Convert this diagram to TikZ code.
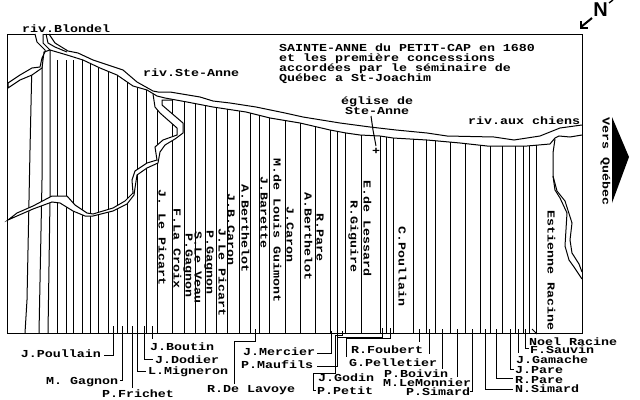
\documentclass[tikz,border=0pt]{standalone}
\usepackage{fontspec}
\setmainfont{Liberation Mono}[BoldFont={Liberation Mono Bold},BoldFeatures={FakeStretch=1.25},FakeStretch=1.25]
\newfontfamily\nfont{Liberation Sans}[BoldFont={Liberation Sans Bold}]
\newcommand{\htxt}[4]{\node[maplabel] (#1) at (#2,#3+3.5) {#4};}
\newcommand{\vtxt}[4]{\node[maplabel,rotate=-90] (#1) at (#2-3.5,#3) {#4};}
\tikzset{
  maplabel/.style={anchor=base west,inner sep=0pt,outer sep=0pt,font=\bfseries\fontsize{8}{8}\selectfont},
  ink/.style={draw=black,line width=0.75pt,line join=miter},
  river/.style={ink,fill=white}
}
\begin{document}
\begin{tikzpicture}[x=0.75pt,y=-0.75pt]
\useasboundingbox (0,0) rectangle (640,400);
\fill[white] (0,0) rectangle (640,400);
% lots, below the shore
\begin{scope}
\clip (8,333) -- (8,88) -- (20,80) -- (32,75) -- (42,68) -- (44,50) -- (50,50) -- (67,55) -- (83,60) -- (100,68) -- (117,75) -- (133,86) -- (147,90) -- (157,96) -- (165,98) -- (187,102) -- (213,107) -- (246,112) -- (270,118) -- (300,123) -- (330,130) -- (346,133) -- (360,135) -- (380,136) -- (393,138) -- (427,140) -- (460,143) -- (487,146) -- (527,146) -- (550,144) -- (582,144) -- (582,333) -- cycle;
\draw[ink] (32,60) -- (30,150) -- (27,300) -- (25,333);
\draw[ink] (42,60) -- (42,180) -- (39,333);
\draw[ink] (50,40) -- (50,200) -- (48,333);
\foreach \x in {57,66,73,82,90,98,108,117,127,137,146,157,172,184,195,205,216,227,239,250,259,269,285,300,315,330,337,345,361,380,386,393,413,426,435,450,465,480,490,502,515,523,529,536}
  \draw[ink] (\x,60) -- (\x,333);
\end{scope}
% frame
\draw[ink] (7.5,34) -- (582,34) -- (582,333) -- (7.5,333) -- cycle;
% riv. Ste-Anne
\draw[river] (153,94) -- (155,107) -- (160,113) -- (177,128) -- (177,135) -- (163,140) -- (155,147) -- (157,160) -- (147,163) -- (135,171) -- (132,180) -- (133,193) -- (125,201) -- (113,208) -- (93,214) -- (87,213) -- (75,205) -- (67,196) -- (52,196) -- (33,206) -- (17,213) -- (8,220) -- (17,216) -- (33,209) -- (52,202) -- (60,203) -- (73,211) -- (85,216) -- (93,216) -- (113,211) -- (127,204) -- (134,195) -- (135,188) -- (137,175) -- (147,168) -- (158,163) -- (160,152) -- (165,145) -- (175,139) -- (183,133) -- (183,123) -- (162,105) -- (162,100) -- (172,100);
% riv. Blondel
\draw[river] (35,34) -- (37,42) -- (45,50) -- (45,52) -- (42,58) -- (40,67) -- (32,68) -- (20,75) -- (8,83) -- (8,88) -- (20,80) -- (32,75) -- (42,68) -- (44,52) -- (50,50) -- (43,43) -- (43,34);
% the river, two shores
\draw[ink] (46,34) -- (48,43) -- (55,47) -- (67,52);
\draw[ink] (49,34) -- (55,43) -- (68,51) -- (78,53) -- (93,60) -- (123,70) -- (137,82) -- (153,91) -- (158,92) -- (170,92) -- (200,97) -- (213,101) -- (230,103) -- (256,107) -- (285,113) -- (303,117) -- (340,123) -- (370,127) -- (396,130) -- (427,133) -- (447,136) -- (494,137) -- (514,140) -- (540,136) -- (550,132) -- (560,128) -- (582,125);
\draw[ink] (50,50) -- (67,55) -- (83,60) -- (100,68) -- (117,75) -- (133,86) -- (147,90) -- (157,96) -- (165,98) -- (187,102) -- (213,107) -- (246,112) -- (270,118) -- (300,123) -- (330,130) -- (346,133) -- (360,135) -- (380,136) -- (393,138) -- (427,140) -- (460,143) -- (487,146) -- (527,146) -- (550,144) -- (555,138) -- (559,136) -- (570,137) -- (582,135);
% Estienne's stream
\draw[ink] (555,139) -- (553,153) -- (553,176) -- (555,190) -- (560,198) -- (567,213) -- (565,246) -- (569,260) -- (574,267) -- (582,279);
\draw[ink] (553,176) -- (557,191) -- (565,201) -- (572,223) -- (570,240) -- (572,253) -- (579,264) -- (582,272);
% texts
\htxt{blondel}{22}{29}{riv.Blondel}
\htxt{steanne}{143}{73}{riv.Ste-Anne}
\htxt{chiens}{468}{121}{riv.aux chiens}
\htxt{t1}{279}{48}{SAINTE-ANNE du PETIT-CAP en 1680}
\htxt{t2}{279}{58}{et les première concessions}
\htxt{t3}{279}{68}{accordées par le séminaire de}
\htxt{t4}{279}{78}{Québec a St-Joachim}
\htxt{eglise}{341}{101}{église de}
\htxt{eglisb}{345}{111}{Ste-Anne}
\node[maplabel,anchor=center] (croix) at (376,151) {+};
\draw[ink] (371,116) -- (373,130) -- (376,146);
% vertical names
\vtxt{v1}{162}{189}{J. Le Picart}
\vtxt{v2}{177}{208}{F.La Croix}
\vtxt{v3}{189}{233}{P.Gagnon}
\vtxt{v4}{198}{231}{S.Le Veau}
\vtxt{v5}{210}{230}{P.Gagnon}
\vtxt{v6}{222}{228}{J.Le Picart}
\vtxt{v7}{231}{193}{J.B.Caron}
\vtxt{v8}{245}{184}{A.Berthelot}
\vtxt{v9}{264}{176}{J.Barette}
\vtxt{v10}{277}{158}{M.de Louis Guimont}
\vtxt{v11}{290}{206}{J.Caron}
\vtxt{v12}{308}{192}{A.Berthelot}
\vtxt{v13}{320}{213}{R.Pare}
\vtxt{v14}{354}{200}{R.Giguire}
\vtxt{v15}{367}{180}{E.de Lessard}
\vtxt{v16}{402}{226}{C.Poullain}
\vtxt{v17}{551}{210}{Estienne Racine}
\vtxt{vers}{606}{117}{Vers Québec}
% arrow to Québec and north
\fill (612,117) -- (629,157) -- (612,203) -- cycle;
\node[inner sep=0pt,font=\nfont\bfseries\fontsize{15}{15}\selectfont] (nord) at (600.5,10) {N};
\draw[line width=1.5pt] (592,18) -- (581,27);
\draw[line width=1.5pt] (581,21) -- (581,27.5) -- (587.5,27.5);
\draw[line width=1pt] (609,3) -- (613,0);
% bottom names
\htxt{b1}{21}{354}{J.Poullain}
\htxt{b2}{46}{381}{M. Gagnon}
\htxt{b3}{102}{394}{P.Frichet}
\htxt{b4}{148}{371}{L.Migneron}
\htxt{b5}{155}{360}{J.Dodier}
\htxt{b6}{150}{347}{J.Boutin}
\htxt{b7}{207}{389}{R.De Lavoye}
\htxt{b8}{243}{352}{J.Mercier}
\htxt{b9}{241}{365}{P.Maufils}
\htxt{b10}{318}{378}{J.Godin}
\htxt{b11}{317}{391}{P.Petit}
\htxt{b12}{351}{350}{R.Foubert}
\htxt{b13}{349}{363}{G.Pelletier}
\htxt{b14}{384}{374}{P.Boivin}
\htxt{b15}{383}{383}{M.LeMonnier}
\htxt{b16}{406}{392}{P.Simard}
\htxt{b17}{515}{389}{N.Simard}
\htxt{b18}{515}{380}{R.Pare}
\htxt{b19}{515}{370}{J.Pare}
\htxt{b20}{516}{360}{J.Gamache}
\htxt{b21}{530}{350}{F.Sauvin}
\htxt{b22}{529}{342}{Noel Racine}
% leaders
\draw[ink] (113,326) -- (113,355) -- (104,355);
\draw[ink] (122,326) -- (122,380) -- (120,380);
\draw[ink] (132,326) -- (132,388);
\draw[ink] (137,326) -- (137,371) -- (146,371);
\draw[ink] (144,326) -- (144,359) -- (153,359);
\draw[ink] (152,326) -- (152,339);
\draw[ink] (255,329) -- (255,341) -- (234,341) -- (234,384);
\draw[ink] (331,331) -- (331,353) -- (317,353);
\draw[ink] (337,333) -- (337,366) -- (317,366);
\draw[ink] (342,331) -- (342,335) -- (335,335) -- (335,373) -- (313,373) -- (313,390) -- (316,390);
\draw[ink] (382,328) -- (382,337) -- (337,337);
\draw[ink] (390,328) -- (390,338) -- (346,338) -- (346,357);
\draw[ink] (419,329) -- (419,342);
\draw[ink] (429,329) -- (429,354);
\draw[ink] (442,329) -- (442,369);
\draw[ink] (457,329) -- (457,377);
\draw[ink] (472,329) -- (472,391) -- (470,391);
\draw[ink] (485,329) -- (485,389) -- (513,389);
\draw[ink] (496,329) -- (496,378) -- (513,378);
\draw[ink] (510,329) -- (510,369) -- (514,369);
\draw[ink] (518,329) -- (518,353);
\draw[ink] (525,329) -- (525,348) -- (529,348);
\draw[ink] (532,329) -- (537,334);
\end{tikzpicture}
\end{document}
